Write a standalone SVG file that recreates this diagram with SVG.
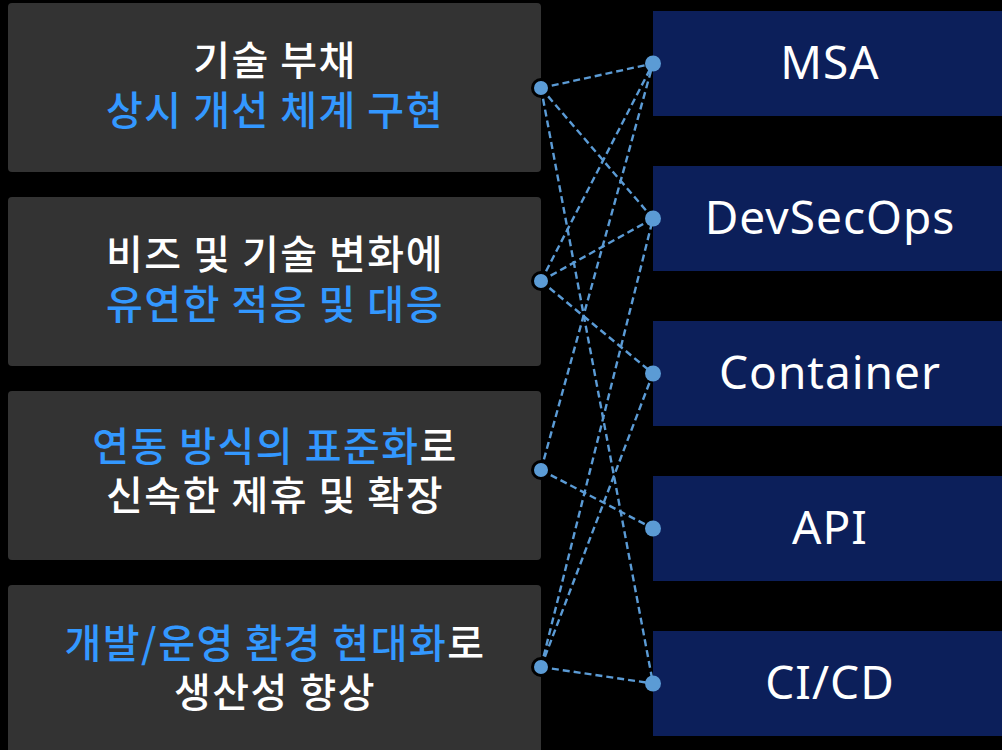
<svg xmlns="http://www.w3.org/2000/svg" width="1002" height="750" viewBox="0 0 1002 750">
<style>
.lbox{fill:#333333}
.rbox{fill:#0c1f5a}
.lt{font-family:"Noto Sans CJK KR","Noto Sans",sans-serif;font-size:40px;font-weight:500;letter-spacing:1.5px;text-anchor:middle;fill:#ffffff}
.b{fill:#3398ff}
.rt{font-family:"Noto Sans","Noto Sans CJK KR",sans-serif;font-size:46px;font-weight:400;letter-spacing:1px;text-anchor:middle;fill:#ffffff}
.ln{stroke:#5b9bd5;stroke-width:2.4;stroke-dasharray:7 4;fill:none}
.dl{fill:#5b9bd5;stroke:#000000;stroke-width:3}
.dr{fill:#5b9bd5}
</style>
<rect width="1002" height="750" fill="#000000"/>
<g id="left1"><rect class="lbox" x="8" y="3" width="533" height="169" rx="4"/>
<text class="lt" x="275" y="75">기술 부채</text>
<text class="lt b" x="275" y="125">상시 개선 체계 구현</text></g>
<g id="left2"><rect class="lbox" x="8" y="197" width="533" height="169" rx="4"/>
<text class="lt" x="275" y="269">비즈 및 기술 변화에</text>
<text class="lt b" x="275" y="319">유연한 적응 및 대응</text></g>
<g id="left3"><rect class="lbox" x="8" y="391" width="533" height="169" rx="4"/>
<text class="lt" x="275" y="461"><tspan class="b">연동 방식의 표준화</tspan>로</text>
<text class="lt" x="275" y="510">신속한 제휴 및 확장</text></g>
<g id="left4"><rect class="lbox" x="8" y="585" width="533" height="175" rx="4"/>
<text class="lt" x="275" y="658"><tspan class="b">개발/운영 환경 현대화</tspan>로</text>
<text class="lt" x="275" y="707">생산성 향상</text></g>
<g id="msa"><rect class="rbox" x="653" y="11" width="360" height="105"/><text class="rt" x="830" y="79">MSA</text></g>
<g id="devsecops"><rect class="rbox" x="653" y="166" width="360" height="105"/><text class="rt" x="830" y="234">DevSecOps</text></g>
<g id="container"><rect class="rbox" x="653" y="321" width="360" height="105"/><text class="rt" x="830" y="389">Container</text></g>
<g id="api"><rect class="rbox" x="653" y="476" width="360" height="105"/><text class="rt" x="830" y="544">API</text></g>
<g id="cicd"><rect class="rbox" x="653" y="631" width="360" height="105"/><text class="rt" x="830" y="699">CI/CD</text></g>
<g id="connectors">
<line class="ln" x1="541" y1="88" x2="653" y2="63.5"/>
<line class="ln" x1="541" y1="88" x2="653" y2="218.5"/>
<line class="ln" x1="541" y1="88" x2="653" y2="683.5"/>
<line class="ln" x1="541" y1="281" x2="653" y2="63.5"/>
<line class="ln" x1="541" y1="281" x2="653" y2="218.5"/>
<line class="ln" x1="541" y1="281" x2="653" y2="373.5"/>
<line class="ln" x1="541" y1="470" x2="653" y2="63.5"/>
<line class="ln" x1="541" y1="470" x2="653" y2="528.5"/>
<line class="ln" x1="541" y1="667" x2="653" y2="218.5"/>
<line class="ln" x1="541" y1="667" x2="653" y2="373.5"/>
<line class="ln" x1="541" y1="667" x2="653" y2="683.5"/>
</g>
<g id="dots">
<circle class="dl" cx="541" cy="88" r="8.5"/>
<circle class="dl" cx="541" cy="281" r="8.5"/>
<circle class="dl" cx="541" cy="470" r="8.5"/>
<circle class="dl" cx="541" cy="667" r="8.5"/>
<circle class="dr" cx="653" cy="63.5" r="8"/>
<circle class="dr" cx="653" cy="218.5" r="8"/>
<circle class="dr" cx="653" cy="373.5" r="8"/>
<circle class="dr" cx="653" cy="528.5" r="8"/>
<circle class="dr" cx="653" cy="683.5" r="8"/>
</g>
</svg>
